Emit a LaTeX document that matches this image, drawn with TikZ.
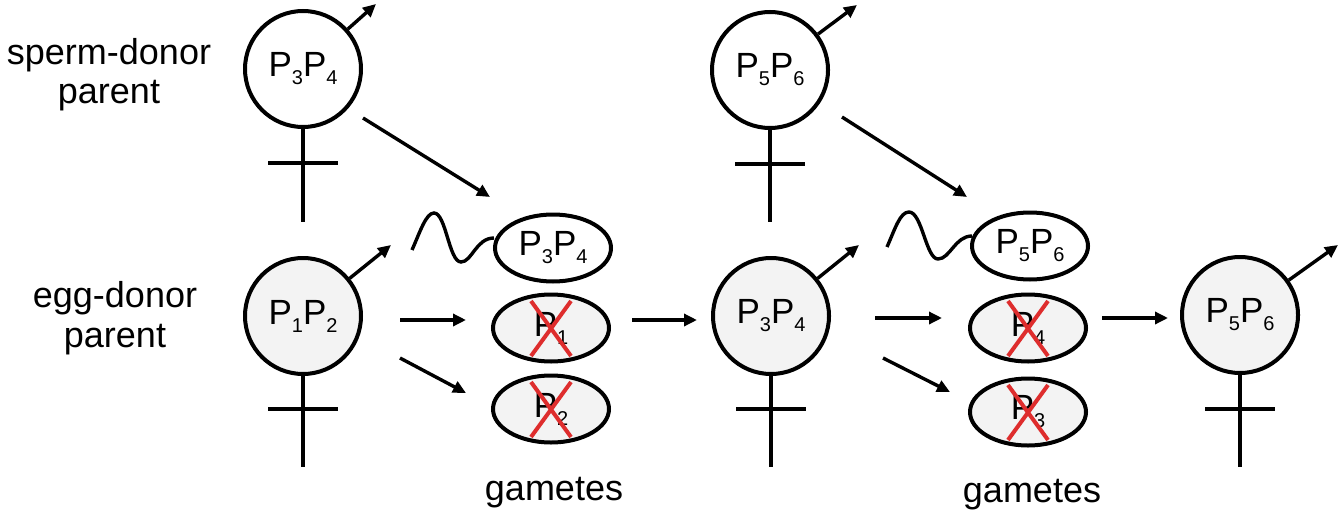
\documentclass[tikz,border=0pt]{standalone}
\usepackage{fontspec}
\setmainfont{Liberation Sans}
\usetikzlibrary{arrows.meta,shapes.geometric}
\definecolor{eggfill}{RGB}{243,243,243}
\definecolor{xred}{RGB}{222,45,45}
\newcommand\subd[1]{\raisebox{-8pt}{\fontsize{20}{20}\selectfont #1}}
\newcommand\pp[2]{P\subd{#1}P\subd{#2}}
\begin{document}
\begin{tikzpicture}[x=1pt,y=-1pt,
  sym/.style={circle, draw, line width=4pt, minimum size=116pt, inner sep=0pt, font=\fontsize{35}{35}\selectfont},
  donor/.style={sym, fill=white},
  child/.style={sym, fill=eggfill},
  gam/.style={ellipse, draw, line width=4pt, minimum width=116pt, minimum height=67pt, inner sep=0pt, font=\fontsize{35}{35}\selectfont},
  sperm/.style={gam, fill=white},
  egg/.style={gam, fill=eggfill},
  arr/.style={line width=3.4pt, -{Triangle[length=13pt,width=12pt]}},
  barline/.style={line width=4pt},
  redx/.style={line width=4pt, xred},
  tail/.style={line width=3.4pt},
  lab/.style={font=\fontsize{36}{40}\selectfont, anchor=base, inner sep=0pt}
]
\useasboundingbox (0,0) rectangle (1343,516);

% labels
\node[lab] (sdl1) at (109,65) {sperm-donor};
\node[lab] (sdl2) at (109,104) {parent};
\node[lab] (edl1) at (115,307) {egg-donor};
\node[lab] (edl2) at (115,347) {parent};
\node[lab] (g1) at (554,500) {gametes};
\node[lab] (g2) at (1032,502) {gametes};

% parents
\node[donor] (sd1) at (303,69) {\pp{3}{4}};
\node[donor] (sd2) at (770,70) {\pp{5}{6}};
\node[child] (ed1) at (303,316) {\pp{1}{2}};
\node[child] (ed2) at (771,316) {\pp{3}{4}};
\node[child] (ed3) at (1240,315) {\pp{5}{6}};

% female symbol stems and bars
\foreach \n/\y in {sd1/222, sd2/222, ed1/467, ed2/467, ed3/467}{
  \draw[barline] (\n.south) -- (\n.south |- 0,\y);
}
\foreach \n/\y in {sd1/163, sd2/164, ed1/409, ed2/409, ed3/409}{
  \draw[barline] ([xshift=-35pt]\n.south |- 0,\y) -- ([xshift=35pt]\n.south |- 0,\y);
}

% male arrows
\coordinate (m1) at (376,4);
\coordinate (m2) at (857,5);
\coordinate (m3) at (391,245);
\coordinate (m4) at (859,245);
\coordinate (m5) at (1338,245);
\draw[arr] (sd1) -- (m1);
\draw[arr] (sd2) -- (m2);
\draw[arr] (ed1) -- (m3);
\draw[arr] (ed2) -- (m4);
\draw[arr] (ed3) -- (m5);

% gametes column 1
\node[sperm] (sp1) at (553,248) {\pp{3}{4}};
\node[egg] (e11) at (551,328) {P\subd{1}};
\node[egg] (e12) at (551,409) {P\subd{2}};
% gametes column 2
\node[sperm] (sp2) at (1030,246) {\pp{5}{6}};
\node[egg] (e21) at (1028,328) {P\subd{4}};
\node[egg] (e22) at (1028,412) {P\subd{3}};

% red crosses
\foreach \n in {e11,e12,e21,e22}{
  \draw[redx] ([shift={(-20,-27)}]\n.center) -- ([shift={(20,28)}]\n.center);
  \draw[redx] ([shift={(20,-27)}]\n.center) -- ([shift={(-20,28)}]\n.center);
}

% sperm tails
\coordinate (t1) at (412,250);
\coordinate (t2) at (887,247);
\draw[tail] (t1) .. controls (420,232) and (426,213) .. (434,213)
  .. controls (446,213) and (449,262) .. (461,262)
  .. controls (472,262) and (476,238) .. (494,238);
\draw[tail] (t2) .. controls (895,229) and (900,212) .. (909,212)
  .. controls (922,212) and (926,259) .. (938,259)
  .. controls (950,259) and (955,236) .. (972,236);

% transmission arrows
\coordinate (a1s) at (363,118); \coordinate (a1e) at (490,197);
\coordinate (a2s) at (842,117); \coordinate (a2e) at (967,197);
\draw[arr] (a1s) -- (a1e);
\draw[arr] (a2s) -- (a2e);

\coordinate (h1s) at (400,320); \coordinate (h1e) at (466,320);
\coordinate (d1s) at (400,358); \coordinate (d1e) at (466,393);
\coordinate (k1s) at (632,320); \coordinate (k1e) at (697,320);
\coordinate (h2s) at (875,318); \coordinate (h2e) at (942,318);
\coordinate (d2s) at (883,358); \coordinate (d2e) at (950,392);
\coordinate (k2s) at (1102,318); \coordinate (k2e) at (1168,318);
\draw[arr] (h1s) -- (h1e);
\draw[arr] (d1s) -- (d1e);
\draw[arr] (k1s) -- (k1e);
\draw[arr] (h2s) -- (h2e);
\draw[arr] (d2s) -- (d2e);
\draw[arr] (k2s) -- (k2e);
\end{tikzpicture}
\end{document}
